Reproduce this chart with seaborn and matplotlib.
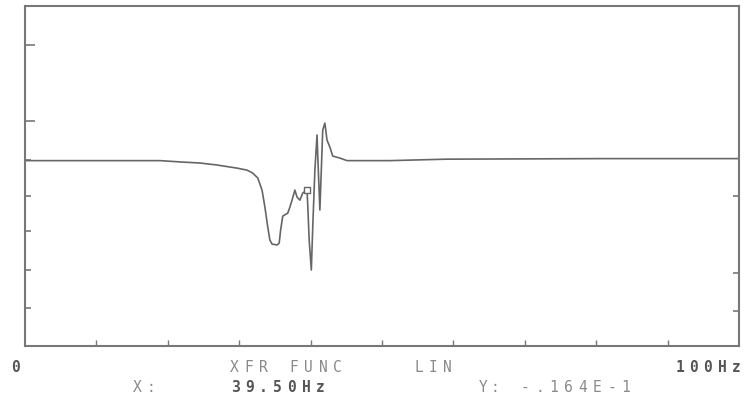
import numpy as np
import pandas as pd
import matplotlib
matplotlib.use("Agg")
import matplotlib.pyplot as plt
import seaborn as sns

# transfer function trace
freq_hz = [0.0, 10.5, 18.9, 22.1, 24.5, 26.9, 29.7, 31.1, 31.9, 32.6, 33.2, 33.6,
           34.0, 34.3, 34.6, 35.3, 35.6, 35.8, 36.1, 36.8, 37.1, 37.4, 37.8, 38.1,
           38.5, 38.9, 39.3, 39.5, 39.6, 39.8, 40.1, 40.3, 40.6, 40.9, 41.0, 41.3,
           41.6, 41.7, 42.0, 42.3, 42.7, 43.1, 44.1, 45.1, 51.1, 59.1, 80.5, 100.0]
amp = [-0.0003, -0.0003, -0.0003, -0.0011, -0.0016, -0.0027, -0.0044, -0.0055,
       -0.0071, -0.0098, -0.0164, -0.0257, -0.0366, -0.0437, -0.0459, -0.0464,
       -0.0454, -0.0383, -0.0306, -0.0290, -0.0257, -0.0219, -0.0164, -0.0202,
       -0.0219, -0.0180, -0.0169, -0.0164, -0.0246, -0.0437, -0.0601, -0.0366,
       -0.0055, 0.0137, 0.0027, -0.0273, 0.0055, 0.0164, 0.0202, 0.0109, 0.0071,
       0.0022, 0.0011, -0.0003, -0.0003, 0.0005, 0.0008, 0.0008]

cursor_x = [39.5]
cursor_y = [-0.0164]

left_long_ticks = [0.0628, 0.0213]
left_short_ticks = [0.0, -0.0197, -0.0388, -0.0601, -0.0809]
right_ticks = [-0.0197, -0.0617, -0.0825]
x_ticks = [10, 20, 30, 40, 50, 60, 70, 80, 90]

df = pd.DataFrame({"f": freq_hz, "a": amp})

sns.set_style("white")
plt.rcParams["font.family"] = ["DejaVu Sans Mono", "DejaVu Sans"]

W, H = 745, 398
fig = plt.figure(figsize=(W / 100, H / 100), dpi=100)
ax = fig.add_axes([25 / W, 1 - 346 / H, (739 - 25) / W, (346 - 6) / H])

sns.lineplot(data=df, x="f", y="a", sort=False, estimator=None, ax=ax,
             color="#666666", linewidth=1.2)
sns.scatterplot(x=cursor_x, y=cursor_y, ax=ax, marker="s", s=22,
                facecolor="white", edgecolor="#666666", linewidth=1.0, zorder=3)

ax.set_xlim(0, 100)
ax.set_ylim(-0.1016, 0.0842)
ax.set_xlabel("")
ax.set_ylabel("")
ax.set_xticks(x_ticks)
ax.set_xticklabels([])
ax.set_yticks(left_long_ticks)
ax.set_yticks(left_short_ticks, minor=True)
ax.set_yticklabels([])
ax.tick_params(axis="y", which="major", direction="in", length=7, width=1.2,
               color="#777777", left=True)
ax.tick_params(axis="y", which="minor", direction="in", length=4, width=1.2,
               color="#777777", left=True)
ax.tick_params(axis="x", direction="in", length=4, width=1.0, color="#777777",
               bottom=True)
for sp in ax.spines.values():
    sp.set_color("#777777")
    sp.set_linewidth(1.5)

ax2 = ax.twinx()
ax2.set_ylim(ax.get_ylim())
ax2.set_yticks(right_ticks)
ax2.set_yticklabels([])
ax2.tick_params(axis="y", direction="in", length=4, width=1.2, color="#777777",
                right=True)
for sp in ax2.spines.values():
    sp.set_visible(False)


def spaced(x_left, y, s, pitch, color="#8a8a8a", weight="normal"):
    # screen font: fixed wide character pitch
    for i, ch in enumerate(s):
        if ch == " ":
            continue
        fig.text((x_left + pitch * (i + 0.5)) / W, 1 - y / H, ch, ha="center",
                 va="center", fontsize=10.5, color=color, fontweight=weight)


spaced(10, 368, "0", 12, color="#555555", weight="bold")
spaced(227, 368, "XFR FUNC", 14.75)
spaced(412, 368, "LIN", 14)
spaced(673, 368, "100Hz", 14, color="#555555", weight="bold")
spaced(130, 387, "X:", 14)
spaced(228, 387, "39.50Hz", 14.2, color="#555555", weight="bold")
spaced(477, 387, "Y:", 12)
spaced(518, 387, "-.164E-1", 14.4)

fig.savefig("out.png", dpi=100)
